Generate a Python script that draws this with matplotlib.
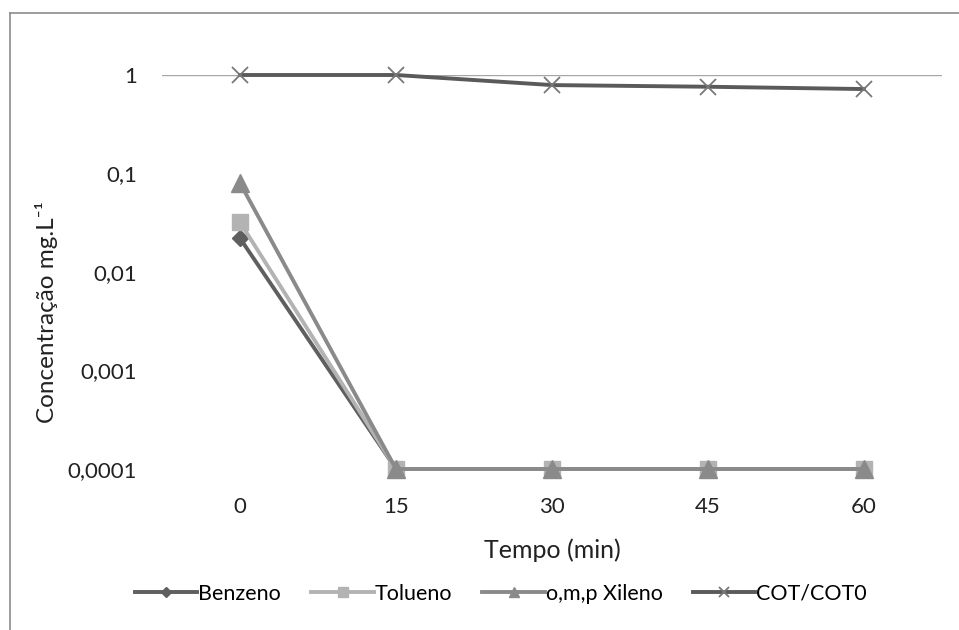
import matplotlib
matplotlib.use("Agg")
import matplotlib.pyplot as plt
from matplotlib.lines import Line2D

categories = ["0", "15", "30", "45", "60"]
benzeno = [0.022, 0.0001, 0.0001, 0.0001, 0.0001]
tolueno = [0.032, 0.0001, 0.0001, 0.0001, 0.0001]
xileno = [0.08, 0.0001, 0.0001, 0.0001, 0.0001]
cot = [1.0, 1.0, 0.79, 0.76, 0.72]
ytick_vals = [0.0001, 0.001, 0.01, 0.1, 1]
ytick_labels = ["0,0001", "0,001", "0,01", "0,1", "1"]

plt.rcParams['font.family'] = ['Lato', 'DejaVu Sans']

fig = plt.figure(figsize=(9.59, 6.3), dpi=100)
ax = fig.add_axes([162/959, 1-469/630, 780/959, (469-75)/630])

x = list(range(len(categories)))
ax.axhline(1, color="#a6a6a6", lw=1.0, zorder=1)

series = [
    ("Benzeno", benzeno, "#5f5f5f", "D", 8.5),
    ("Tolueno", tolueno, "#b3b3b3", "s", 11),
    ("o,m,p Xileno", xileno, "#8a8a8a", "^", 12.5),
    ("COT/COT0", cot, "#5a5a5a", "x", 11),
]
handles = []
for name, vals, col, mk, ms in series:
    mew = 1.3 if mk == "x" else 1
    ax.plot(x, vals, color=col, lw=2.8, marker=mk, ms=ms, mec=col if mk != "x" else "#777777",
            mfc=col, mew=mew, clip_on=False, zorder=3)
    handles.append(Line2D([0], [0], color=col, lw=2.8, marker=mk, ms=ms*0.6,
                          mec=col if mk != "x" else "#777777", mfc=col, mew=mew))

ax.set_yscale("log")
ax.set_ylim(1e-4, 1)
ax.set_xlim(-0.5, len(categories) - 0.5)
ax.set_yticks(ytick_vals)
ax.set_yticklabels(ytick_labels)
ax.yaxis.set_minor_locator(matplotlib.ticker.NullLocator())
ax.set_xticks(x)
ax.set_xticklabels(categories)
for s in ax.spines.values():
    s.set_visible(False)
ax.tick_params(axis="both", length=0, labelsize=16, colors="#222222")
ax.tick_params(axis="x", pad=20)
ax.tick_params(axis="y", pad=18)

fig.text(552/959, 1-550/630, "Tempo (min)", fontsize=18, color="#222222",
         ha="center", va="center")
fig.text(47/959, 1-312/630, "Concentração mg.L⁻¹", rotation=90, fontsize=17.5,
         color="#222222", ha="center", va="center")

fig.legend(handles, [s[0] for s in series], loc="center", bbox_to_anchor=(501/959, 1-594/630),
           ncol=4, frameon=False, fontsize=15.5, handlelength=2.9, handletextpad=0.05,
           columnspacing=1.4)

# partial outer frame (left and top visible)
fig.add_artist(Line2D([10/959, 10/959], [0, 1-13/630], color="#8c8c8c", lw=1.2,
                      transform=fig.transFigure))
fig.add_artist(Line2D([10/959, 1], [1-13/630, 1-13/630], color="#8c8c8c", lw=1.2,
                      transform=fig.transFigure))

fig.savefig("out.png", dpi=100)
